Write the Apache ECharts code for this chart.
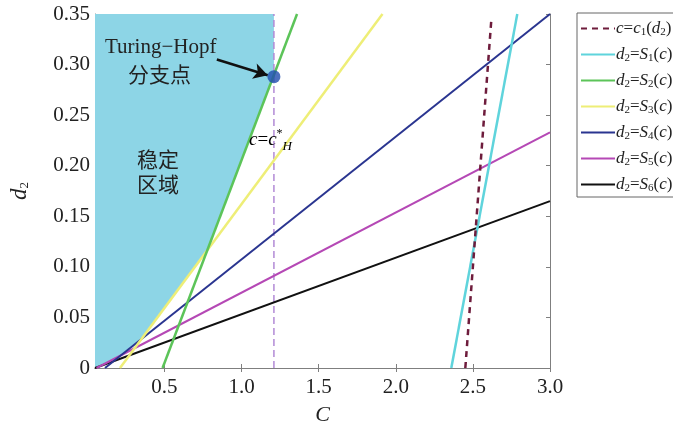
<!DOCTYPE html>
<html>
<head>
<meta charset="utf-8">
<script src="https://cdn.jsdelivr.net/npm/echarts@6/dist/echarts.min.js"></script>
<style>html,body{margin:0;padding:0;background:#fff}#main{width:673px;height:431px}</style>
</head>
<body>
<div id="main"></div>
<script>
// ---- data ----
const xTickValues = [0.5, 1.0, 1.5, 2.0, 2.5, 3.0];
const c1Curve = [[2.451, 0], [2.62, 0.345]];
const S1 = [[2.36, 0], [2.788, 0.35]];
const S2 = [[0.488, 0], [1.36, 0.35]];
const S3 = [[0.212, 0], [1.914, 0.35]];
const S4 = [[0.115, 0], [3.0, 0.35]];
const S5 = [[0.06, 0], [3.0, 0.233]];
const S6 = [[0.05, 0], [3.0, 0.165]];
const hopfLine = [[1.21, 0], [1.21, 0.35]];
const bifPoint = [[1.21, 0.288]];
const arrowFrom = [0.84, 0.305];
const arrowTo = [1.17, 0.2895];
const stableBoundary = [[0.05, 0], [0.17, 0.0067], [0.352, 0.029], [0.778, 0.1164], [1.21, 0.2898], [1.21, 0.35]];
const legendNames = ['c=c1(d2)', 'd2=S1(c)', 'd2=S2(c)', 'd2=S3(c)', 'd2=S4(c)', 'd2=S5(c)', 'd2=S6(c)'];

const serif = 'Liberation Serif, Times New Roman, serif';
const cjk = 'Noto Sans CJK SC';
const axisGray = '#7f7f7f';

const chart = echarts.init(document.getElementById('main'));

function legendFmt(name) {
  if (name === 'c=c1(d2)') return '{i|c}{n|=}{i|c}{s|1}{n|(}{i|d}{s|2}{n|)}';
  const k = name.charAt(4);
  return '{i|d}{s|2}{n|=}{i|S}{s|' + k + '}{n|(}{i|c}{n|)}';
}

function lineSeries(name, data, color, width, type) {
  return {
    name: name, type: 'line', data: data, symbol: 'none', showSymbol: false,
    lineStyle: { color: color, width: width, type: type || 'solid' },
    itemStyle: { color: color },
    z: 3, animation: false, silent: true
  };
}

const option = {
  animation: false,
  grid: { left: 95, right: 123, top: 14, bottom: 62, containLabel: false },
  xAxis: [{
    type: 'value', min: 0.05, max: 3.0,
    name: 'C', nameLocation: 'middle', nameGap: 36,
    nameTextStyle: { fontFamily: serif, fontStyle: 'italic', fontSize: 22, color: '#222' },
    axisLine: { show: true, lineStyle: { color: axisGray, width: 1 } },
    axisTick: { show: true, inside: true, length: 4, customValues: xTickValues, lineStyle: { color: axisGray } },
    axisLabel: { customValues: xTickValues, formatter: v => v.toFixed(1), fontFamily: serif, fontSize: 21, color: '#222', margin: 9 },
    splitLine: { show: false }
  }, {
    type: 'value', position: 'top', min: 0.05, max: 3.0,
    axisLine: { show: true, lineStyle: { color: axisGray, width: 1 } },
    axisTick: { show: true, inside: true, length: 4, customValues: xTickValues, lineStyle: { color: axisGray } },
    axisLabel: { show: false }, splitLine: { show: false }
  }],
  yAxis: [{
    type: 'value', min: 0, max: 0.35, interval: 0.05,
    name: '{i|d}{s|2}', nameLocation: 'middle', nameGap: 64, nameRotate: 90,
    nameTextStyle: {
      rich: {
        i: { fontFamily: serif, fontStyle: 'italic', fontSize: 23, color: '#222' },
        s: { fontFamily: serif, fontSize: 13, color: '#222', padding: [10, 0, 0, 0] }
      }
    },
    axisLine: { show: true, lineStyle: { color: axisGray, width: 1 } },
    axisTick: { show: true, inside: true, length: 4, lineStyle: { color: axisGray } },
    axisLabel: { formatter: v => (v === 0 ? '0' : v.toFixed(2)), fontFamily: serif, fontSize: 21, color: '#222', margin: 5 },
    splitLine: { show: false }
  }, {
    type: 'value', position: 'right', min: 0, max: 0.35, interval: 0.05,
    axisLine: { show: true, lineStyle: { color: axisGray, width: 1 } },
    axisTick: { show: true, inside: true, length: 4, lineStyle: { color: axisGray } },
    axisLabel: { show: false }, splitLine: { show: false }
  }],
  legend: {
    orient: 'vertical', left: 577, top: 13,
    data: legendNames,
    borderColor: '#666', borderWidth: 1, borderRadius: 0,
    padding: [6, 8, 3, 3],
    itemWidth: 34, itemHeight: 14, itemGap: 7,
    itemStyle: { opacity: 0 },
    formatter: legendFmt,
    textStyle: {
      padding: [0, 0, 0, -4],
      rich: {
        i: { fontFamily: serif, fontStyle: 'italic', fontSize: 17, color: '#222', lineHeight: 18 },
        n: { fontFamily: serif, fontSize: 17, color: '#222', lineHeight: 18 },
        s: { fontFamily: serif, fontSize: 11, color: '#222', lineHeight: 18, padding: [8, 0, 0, 0] }
      }
    }
  },
  series: [
    {
      name: 'stable', type: 'line', data: stableBoundary, symbol: 'none',
      lineStyle: { width: 0 }, areaStyle: { color: '#8dd5e6', opacity: 1, origin: 'end' },
      z: 1, silent: true
    },
    lineSeries('d2=S6(c)', S6, '#111111', 2),
    lineSeries('d2=S5(c)', S5, '#b548b5', 2),
    lineSeries('d2=S4(c)', S4, '#2a3590', 2),
    lineSeries('d2=S3(c)', S3, '#eeee77', 2.5),
    lineSeries('d2=S2(c)', S2, '#5cc459', 2.5),
    lineSeries('d2=S1(c)', S1, '#5fd4dc', 2.5),
    lineSeries('c=c1(d2)', c1Curve, '#6e1c3c', 2.5, [6, 5]),
    {
      name: 'hopf', type: 'line', data: hopfLine, symbol: 'none',
      lineStyle: { color: '#b28ad6', width: 1.5, type: [7, 4] }, z: 2, silent: true
    },
    {
      name: 'point', type: 'scatter', data: bifPoint, symbolSize: 13,
      itemStyle: { color: '#1f4cae' }, z: 6, silent: true,
      markLine: {
        silent: true, symbol: ['none', 'arrow'], symbolSize: [12, 14],
        label: { show: false },
        lineStyle: { color: '#111', width: 2.5, type: 'solid' },
        data: [[{ coord: arrowFrom }, { coord: arrowTo }]]
      }
    }
  ],
  graphic: [
    { type: 'text', left: 105, top: 37, z: 100, style: { text: 'Turing\u2212Hopf', fontFamily: serif, fontSize: 21, fill: '#222' } },
    { type: 'text', left: 128, top: 64, z: 100, style: { text: '分支点', fontFamily: cjk, fontSize: 21, fill: '#222' } },
    { type: 'text', left: 137, top: 149, z: 100, style: { text: '稳定', fontFamily: cjk, fontSize: 21, fill: '#222' } },
    { type: 'text', left: 137, top: 174, z: 100, style: { text: '区域', fontFamily: cjk, fontSize: 21, fill: '#222' } },
    { type: 'text', left: 249, top: 128, z: 100, style: {
      text: '{i|c}{n|=}{i|c}{sup|*}{sub|H}',
      rich: {
        i: { fontFamily: serif, fontStyle: 'italic', fontSize: 19, color: '#222' },
        n: { fontFamily: serif, fontSize: 19, color: '#222' },
        sup: { fontFamily: serif, fontSize: 12, color: '#222', padding: [0, 0, 12, 0] },
        sub: { fontFamily: serif, fontStyle: 'italic', fontSize: 13, color: '#222', padding: [14, 0, 0, 0] }
      }
    } }
  ]
};
chart.setOption(option);
</script>
</body>
</html>
